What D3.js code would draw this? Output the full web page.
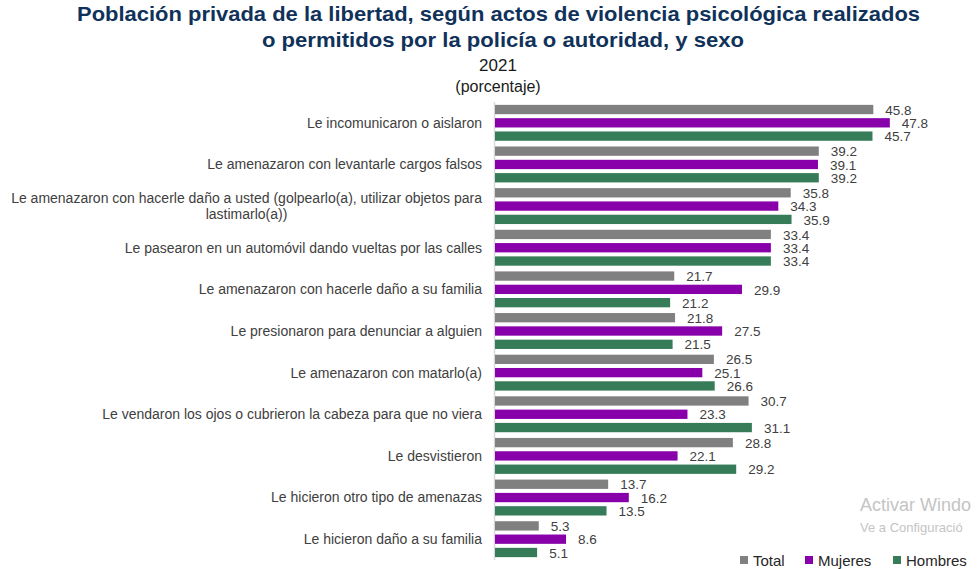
<!DOCTYPE html>
<html>
<head>
<meta charset="utf-8">
<script src="https://cdn.jsdelivr.net/npm/d3@7/dist/d3.min.js"></script>
<style>
  html, body { margin: 0; padding: 0; background: #ffffff; }
  svg { display: block; }
</style>
</head>
<body>
<svg id="chart" width="978" height="569"></svg>
<script>
// ---- Data ----
const categories = [
  ["Le incomunicaron o aislaron"],
  ["Le amenazaron con levantarle cargos falsos"],
  ["Le amenazaron con hacerle daño a usted (golpearlo(a), utilizar objetos para", "lastimarlo(a))"],
  ["Le pasearon en un automóvil dando vueltas por las calles"],
  ["Le amenazaron con hacerle daño a su familia"],
  ["Le presionaron para denunciar a alguien"],
  ["Le amenazaron con matarlo(a)"],
  ["Le vendaron los ojos o cubrieron la cabeza para que no viera"],
  ["Le desvistieron"],
  ["Le hicieron otro tipo de amenazas"],
  ["Le hicieron daño a su familia"]
];
const seriesNames = ["Total", "Mujeres", "Hombres"];
const totalValues   = [45.8, 39.2, 35.8, 33.4, 21.7, 21.8, 26.5, 30.7, 28.8, 13.7, 5.3];
const mujeresValues = [47.8, 39.1, 34.3, 33.4, 29.9, 27.5, 25.1, 23.3, 22.1, 16.2, 8.6];
const hombresValues = [45.7, 39.2, 35.9, 33.4, 21.2, 21.5, 26.6, 31.1, 29.2, 13.5, 5.1];
const seriesColors = ["#808080", "#8800aa", "#377c58"];

const titleLines = [
  "Población privada de la libertad, según actos de violencia psicológica realizados",
  "o permitidos por la policía o autoridad, y sexo"
];
const subtitle1 = "2021";
const subtitle2 = "(porcentaje)";
const watermark = ["Activar Windo", "Ve a Configuració"];

// ---- Build ----
const svg = d3.select("#chart");
const valuesBySeries = [totalValues, mujeresValues, hombresValues];
const catKeys = categories.map((c, i) => i);

const x = d3.scaleLinear().domain([0, 50]).range([495, 908]);
const y0 = d3.scaleBand().domain(catKeys).range([102, 560]).paddingInner(0).paddingOuter(0);
const y1 = d3.scaleBand().domain(seriesNames).range([0, y0.bandwidth()]).paddingInner(0.3).paddingOuter(0.215);

// Title
const title = svg.append("g").attr("font-family", "'Liberation Sans Narrow', 'Arial Narrow', 'Liberation Sans', Arial, sans-serif")
  .attr("font-weight", "bold").attr("fill", "#10325a").attr("font-size", 21).attr("text-anchor", "middle");
title.append("text").attr("x", 498.5).attr("y", 21)
  .attr("textLength", 843).attr("lengthAdjust", "spacingAndGlyphs").text(titleLines[0]);
title.append("text").attr("x", 503).attr("y", 47)
  .attr("textLength", 482).attr("lengthAdjust", "spacingAndGlyphs").text(titleLines[1]);

svg.append("text").attr("x", 498).attr("y", 71).attr("text-anchor", "middle")
  .attr("font-family", "'Liberation Sans', Arial, sans-serif").attr("font-size", 17).attr("fill", "#1a1a1a")
  .text(subtitle1);
svg.append("text").attr("x", 498).attr("y", 92).attr("text-anchor", "middle")
  .attr("font-family", "'Liberation Sans', Arial, sans-serif").attr("font-size", 16).attr("fill", "#1a1a1a")
  .text(subtitle2);

// Axis line
svg.append("line").attr("x1", 494.5).attr("x2", 494.5).attr("y1", y0.range()[0]).attr("y2", y0.range()[1])
  .attr("stroke", "#d9d9d9").attr("stroke-width", 1.5);

// Bars
const groups = svg.append("g").selectAll("g").data(catKeys).join("g")
  .attr("transform", d => `translate(0,${y0(d)})`);

groups.selectAll("rect").data(ci => seriesNames.map((s, si) => ({ s, si, v: valuesBySeries[si][ci] })))
  .join("rect")
  .attr("x", x(0))
  .attr("y", d => y1(d.s))
  .attr("width", d => x(d.v) - x(0))
  .attr("height", y1.bandwidth())
  .attr("fill", d => seriesColors[d.si]);

groups.selectAll("text.val").data(ci => seriesNames.map((s, si) => ({ s, si, v: valuesBySeries[si][ci] })))
  .join("text").attr("class", "val")
  .attr("x", d => x(d.v) + 12)
  .attr("y", d => y1(d.s) + y1.bandwidth() + 0.5)
  .attr("font-family", "'Liberation Sans', Arial, sans-serif")
  .attr("font-size", 13.5).attr("fill", "#404040")
  .text(d => d.v.toFixed(1));

// Category labels
const labelG = svg.append("g").attr("font-family", "'Liberation Sans', Arial, sans-serif")
  .attr("font-size", 14).attr("fill", "#404040");
catKeys.forEach(ci => {
  const lines = categories[ci];
  const cy = y0(ci) + y1("Mujeres") + y1.bandwidth() / 2;
  const lh = 16;
  const t = labelG.append("text").attr("text-anchor", "end")
    .attr("x", 482).attr("y", cy - (lines.length - 1) * lh / 2).attr("dy", "0.35em")
    .text(lines[0]);
  if (lines.length > 1) {
    const w = t.node().getComputedTextLength();
    for (let k = 1; k < lines.length; k++) {
      labelG.append("text").attr("text-anchor", "middle")
        .attr("x", 482 - w / 2).attr("y", cy - (lines.length - 1) * lh / 2 + k * lh).attr("dy", "0.35em")
        .text(lines[k]);
    }
  }
});

// Legend
const legendX = [740, 805, 893];
const legend = svg.append("g").attr("font-family", "'Liberation Sans', Arial, sans-serif")
  .attr("font-size", 15).attr("fill", "#262626");
seriesNames.forEach((s, i) => {
  legend.append("rect").attr("x", legendX[i]).attr("y", 556).attr("width", 8).attr("height", 8).attr("fill", seriesColors[i]);
  legend.append("text").attr("x", legendX[i] + 13).attr("y", 565.5).text(s);
});

// Watermark visible at the right edge of the reference
svg.append("text").attr("x", 860).attr("y", 511).attr("font-family", "'Liberation Sans', Arial, sans-serif")
  .attr("font-size", 18).attr("fill", "#c4c4c4").text(watermark[0]);
svg.append("text").attr("x", 860).attr("y", 532).attr("font-family", "'Liberation Sans', Arial, sans-serif")
  .attr("font-size", 13).attr("fill", "#c4c4c4").text(watermark[1]);
</script>
</body>
</html>
